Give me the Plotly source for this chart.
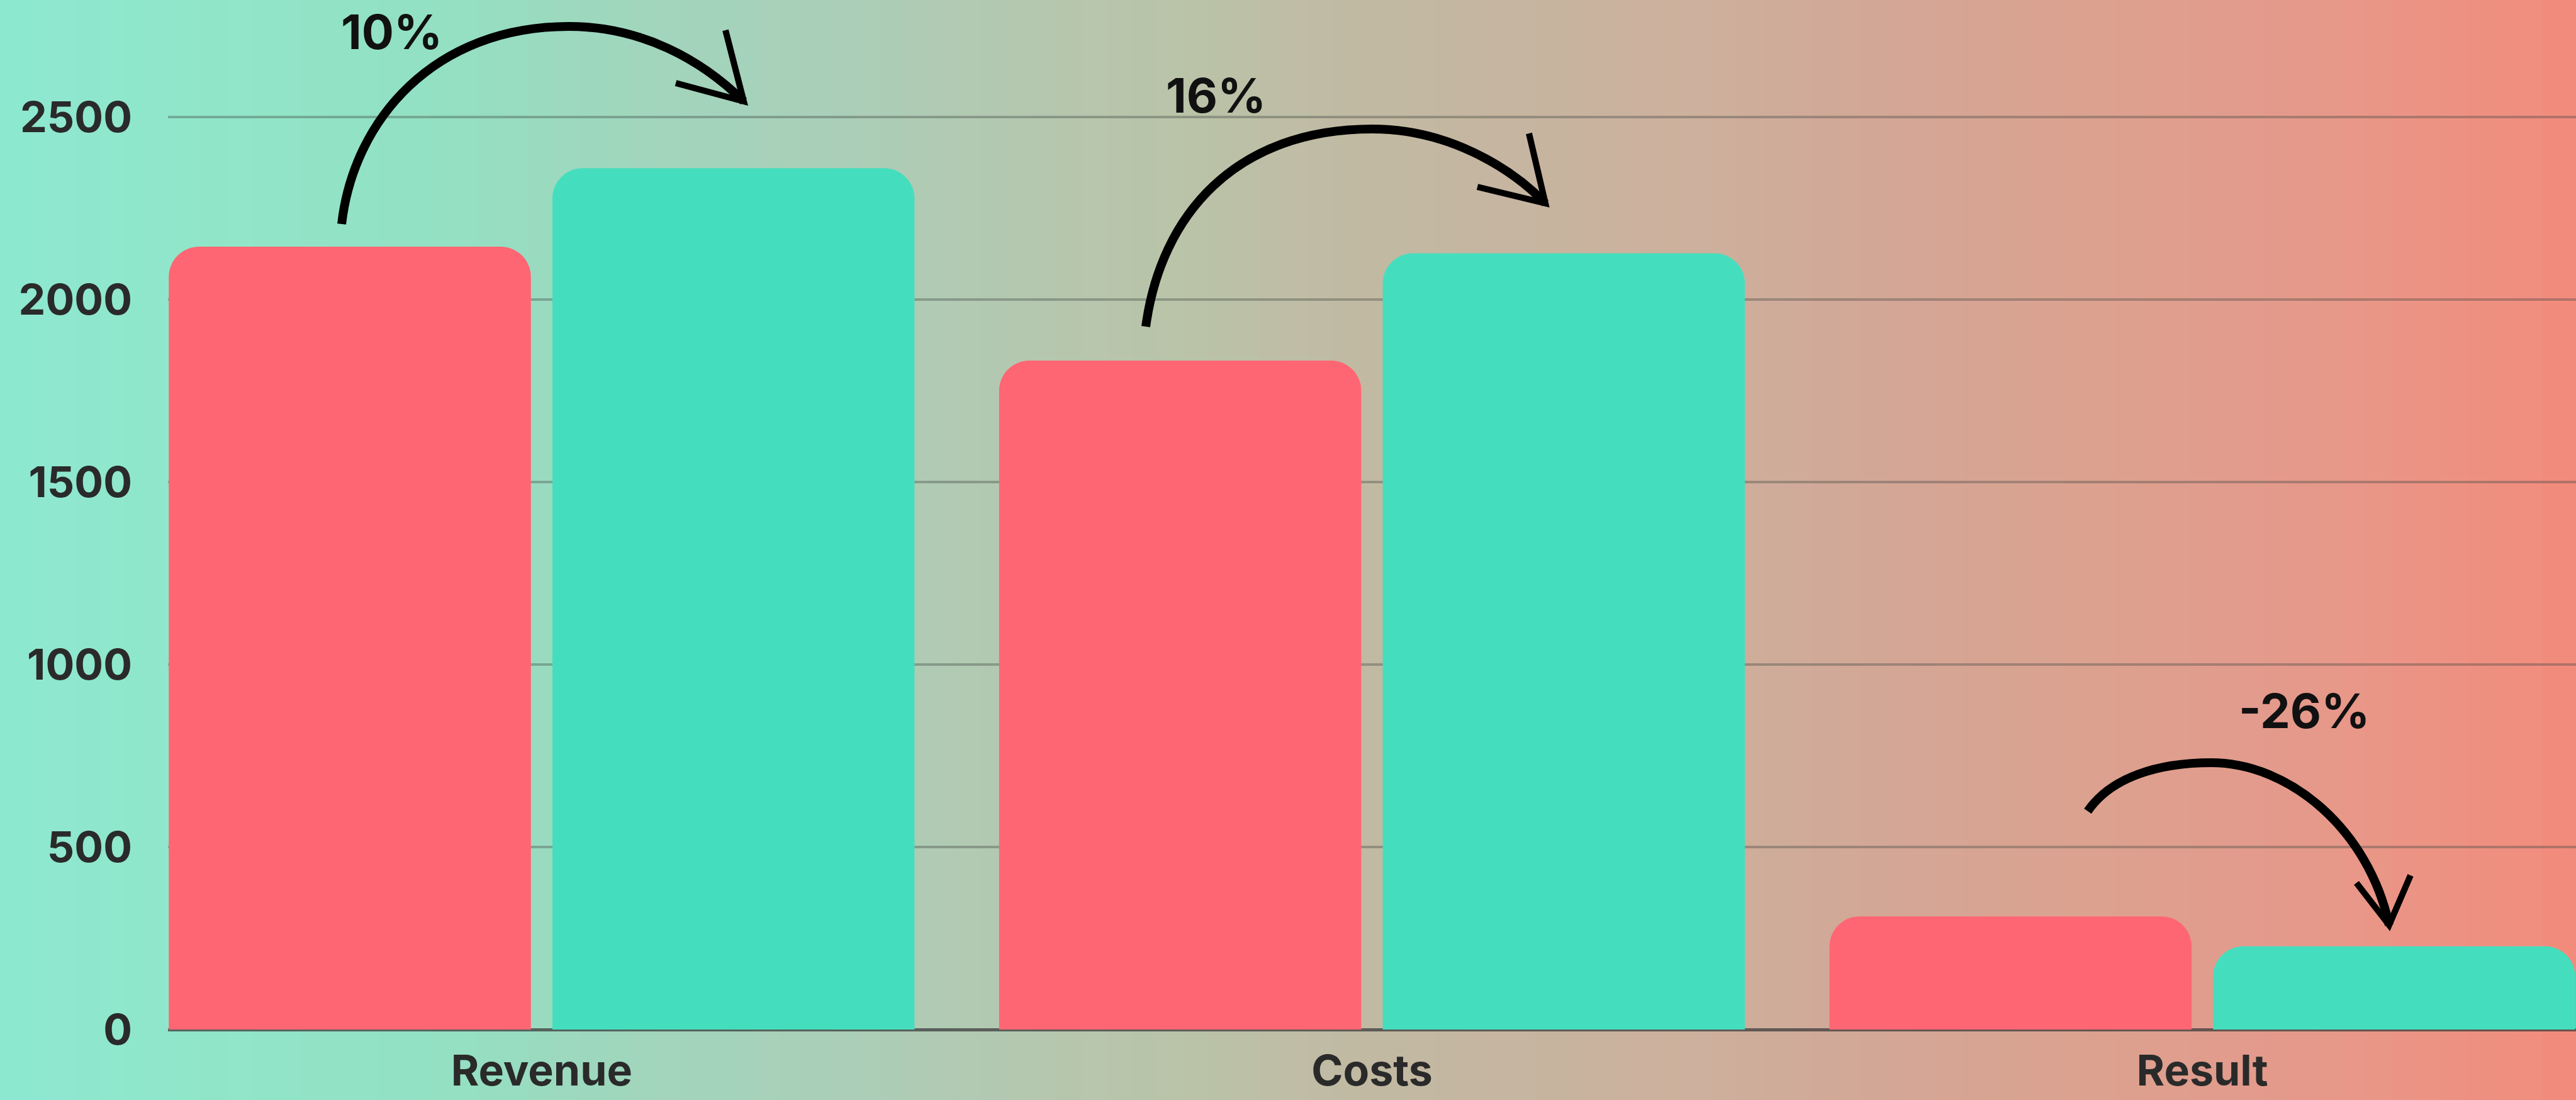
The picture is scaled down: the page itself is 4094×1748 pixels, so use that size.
import plotly.graph_objects as go

# ---- data ----
categories = ["Revenue", "Costs", "Result"]
previous = [2145, 1833, 310]
current = [2360, 2127, 228]
change_labels = ["10%", "16%", "-26%"]
y_ticks = [0, 500, 1000, 1500, 2000, 2500]

# ---- layout geometry (pixels) ----
W, H = 4094, 1748
ML, MR, MT, MB = 267, 0, 0, 112
PW, PH = W - ML - MR, H - MT - MB

def px(x):
    return (x - ML) / PW

def py(y):
    return (H - MB - y) / PH

RED = "#FF6674"
GREEN = "#44DEBE"

fig = go.Figure()
fig.add_trace(go.Bar(x=categories, y=previous, marker=dict(color=RED, cornerradius=48),
                     marker_line_width=0, name="Previous"))
fig.add_trace(go.Bar(x=categories, y=current, marker=dict(color=GREEN, cornerradius=48),
                     marker_line_width=0, name="Current"))

# ---- gradient background (vertical stripes) ----
stops = [
    (0, (141, 232, 208)), (300, (144, 230, 201)), (700, (147, 224, 195)),
    (1000, (160, 214, 189)), (1300, (169, 207, 184)), (1600, (180, 200, 176)),
    (1900, (186, 195, 168)), (2100, (192, 187, 164)), (2400, (198, 181, 160)),
    (2700, (205, 176, 157)), (3000, (211, 166, 150)), (3300, (219, 162, 144)),
    (3600, (227, 155, 140)), (3800, (234, 149, 134)), (4094, (242, 139, 124)),
]

def color_at(x):
    for (x0, c0), (x1, c1) in zip(stops[:-1], stops[1:]):
        if x0 <= x <= x1:
            t = (x - x0) / (x1 - x0)
            c = [round(a + (b - a) * t) for a, b in zip(c0, c1)]
            return "rgb(%d,%d,%d)" % tuple(c)
    return "rgb(%d,%d,%d)" % stops[-1][1]

shapes = []
step = 40
x = 0
while x < W:
    shapes.append(dict(type="rect", xref="paper", yref="paper", layer="below",
                       x0=px(x), x1=px(min(x + step + 1, W)), y0=py(H), y1=py(0),
                       fillcolor=color_at(x + step / 2), line=dict(width=0)))
    x += step

# ---- curved arrows ----
def path_from(cmds):
    out = []
    for c in cmds:
        if isinstance(c, str):
            out.append(c)
        else:
            out.append("%.5f,%.5f" % (px(c[0]), py(c[1])))
    return " ".join(out)

arrows = [
    (["M", (543, 356), "C", (562, 190), (690, 42), (904, 42), "C", (1020, 42), (1115, 95), (1182, 161)],
     ["M", (1153, 48), "L", (1182, 161), "L", (1074, 132)]),
    (["M", (1821, 519), "C", (1845, 340), (1965, 205), (2181, 205), "C", (2300, 205), (2400, 265), (2456, 323)],
     ["M", (2430, 212), "L", (2456, 323), "L", (2348, 297)]),
    (["M", (3318, 1289), "C", (3355, 1235), (3430, 1212), (3514, 1212), "C", (3640, 1212), (3765, 1320), (3797, 1470)],
     ["M", (3831, 1391), "L", (3797, 1470), "L", (3745, 1403)]),
]
for body, head in arrows:
    shapes.append(dict(type="path", xref="paper", yref="paper", path=path_from(body),
                       line=dict(color="#000000", width=14), layer="above"))
    shapes.append(dict(type="path", xref="paper", yref="paper", path=path_from(head),
                       line=dict(color="#000000", width=10), layer="above"))

label_pos = [(622, 50), (1932, 151), (3662, 1129)]
annotations = []
for txt, (lx, ly) in zip(change_labels, label_pos):
    annotations.append(dict(text="<b>%s</b>" % txt, xref="paper", yref="paper",
                            x=px(lx), y=py(ly), showarrow=False, xanchor="center", yanchor="middle",
                            font=dict(family="Inter", size=76, color="#111111")))

fig.update_layout(
    width=W, height=H,
    margin=dict(l=ML, r=MR, t=MT, b=MB, pad=0),
    paper_bgcolor="rgb(141,232,208)",
    plot_bgcolor="rgba(0,0,0,0)",
    barmode="group", bargap=0.076, bargroupgap=0.056,
    showlegend=False,
    shapes=shapes,
    annotations=annotations,
    font=dict(family="Inter", color="#2a2a2a"),
)
fig.update_xaxes(range=[-0.45, 2.45], showgrid=False, showline=False, zeroline=False,
                 ticks="", tickfont=dict(family="Inter", size=68, color="#2a2a2a", weight="bold"),
                 ticklabelstandoff=20)
fig.update_yaxes(range=[0, 2821], tickvals=y_ticks, showline=False,
                 gridcolor="rgba(60,70,65,0.36)", gridwidth=4,
                 zeroline=True, zerolinecolor="rgba(60,60,60,0.75)", zerolinewidth=5,
                 ticks="", tickfont=dict(family="Inter", size=68, color="#2a2a2a", weight="bold"),
                 ticklabelstandoff=56)

fig.write_html("out.html")
